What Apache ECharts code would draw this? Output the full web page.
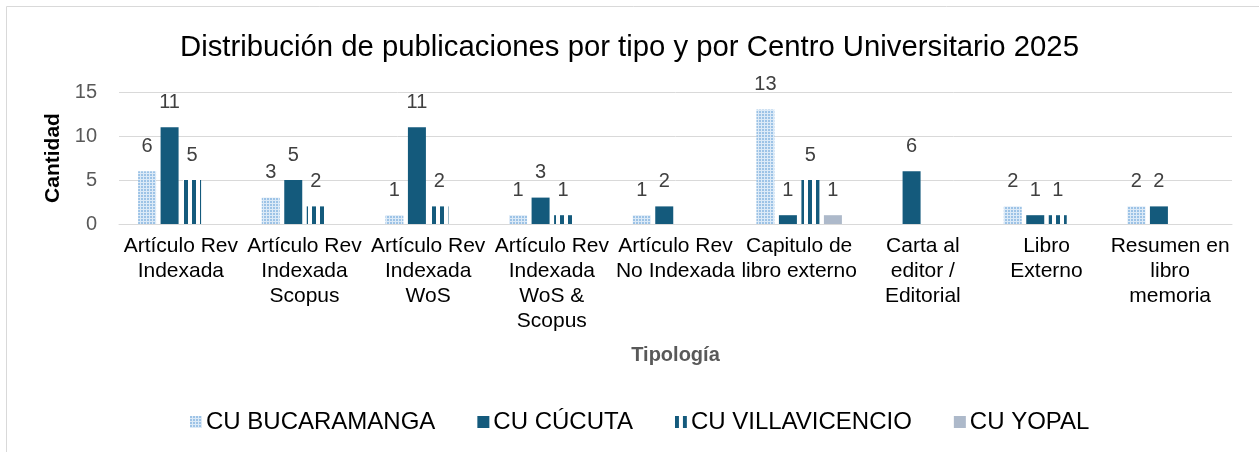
<!DOCTYPE html>
<html><head><meta charset="utf-8">
<script src="https://cdn.jsdelivr.net/npm/echarts@6/dist/echarts.min.js"></script>
<style>html,body{margin:0;padding:0;background:#fff}#c{width:1259px;height:452px}</style>
</head><body><div id="c"></div>
<script>
const categories = ['Artículo Rev\nIndexada','Artículo Rev\nIndexada\nScopus','Artículo Rev\nIndexada\nWoS','Artículo Rev\nIndexada\nWoS &\nScopus','Artículo Rev\nNo Indexada','Capitulo de\nlibro externo','Carta al\neditor /\nEditorial','Libro\nExterno','Resumen en\nlibro\nmemoria'];
const seriesNames = ['CU BUCARAMANGA','CU CÚCUTA','CU VILLAVICENCIO','CU YOPAL'];
const bucaramanga = [6,3,1,1,1,13,null,2,2];
const cucuta = [11,5,11,3,2,1,6,1,2];
const villavicencio = [5,2,2,1,null,5,null,1,null];
const yopal = [null,null,null,null,null,1,null,null,null];
const yTicks = {min:0,max:15,interval:5};

const FONT = 'Liberation Sans, Arial, sans-serif';
function dotPattern(){
  const c=document.createElement('canvas');c.width=3;c.height=3;
  const g=c.getContext('2d');g.fillStyle='#DCEAF7';g.fillRect(0,0,3,3);
  g.fillStyle='#9DC3E6';g.fillRect(0,0,2,2);return c;
}
function stripePattern(){
  const c=document.createElement('canvas');c.width=8;c.height=4;
  const g=c.getContext('2d');g.fillStyle='#ffffff';g.fillRect(0,0,8,4);
  g.fillStyle='#145A7C';g.fillRect(0,0,4,4);return c;
}
const colors=[{image:dotPattern(),repeat:'repeat'},'#145A7C',{image:stripePattern(),repeat:'repeat'},'#ADB9CA'];
const data=[bucaramanga,cucuta,villavicencio,yopal];

const chart=echarts.init(document.getElementById('c'),null,{renderer:'canvas'});
chart.setOption({
  animation:false,
  textStyle:{fontFamily:FONT},
  graphic:[{type:'rect',shape:{x:6.5,y:6.5,width:1300,height:500},style:{fill:'none',stroke:'#D9D9D9',lineWidth:1},silent:true}],
  title:{text:'Distribución de publicaciones por tipo y por Centro Universitario 2025',left:'center',top:28,
    textStyle:{fontFamily:FONT,fontSize:29.3,fontWeight:'normal',color:'#000'}},
  legend:{bottom:18,left:190,padding:0,itemWidth:12,itemHeight:12,itemGap:42,icon:'rect',
    textStyle:{fontFamily:FONT,fontSize:24,color:'#000',padding:[0,0,0,-1]},data:seriesNames},
  grid:{left:119,right:27,top:92,bottom:228,containLabel:false},
  xAxis:{type:'category',data:categories,
    axisLine:{show:true,lineStyle:{color:'#D9D9D9',width:1}},axisTick:{show:false},
    axisLabel:{interval:0,fontFamily:FONT,fontSize:21,lineHeight:25,color:'#000',margin:10},
    name:'Tipología',nameLocation:'middle',nameGap:121,
    nameTextStyle:{fontFamily:FONT,fontSize:20,fontWeight:'bold',color:'#595959'}},
  yAxis:{type:'value',min:yTicks.min,max:yTicks.max,interval:yTicks.interval,
    axisLine:{show:false},axisTick:{show:false},
    splitLine:{lineStyle:{color:'#D9D9D9',width:1}},
    axisLabel:{fontFamily:FONT,fontSize:20,color:'#595959',margin:22},
    name:'Cantidad',nameLocation:'middle',nameGap:55,nameRotate:90,
    nameTextStyle:{fontFamily:FONT,fontSize:21,fontWeight:'bold',color:'#000'}},
  series:seriesNames.map((n,i)=>({
    name:n,type:'bar',data:data[i],barWidth:18,barGap:'25%',
    itemStyle:{color:colors[i]},
    label:{show:true,position:'top',distance:15,fontFamily:FONT,fontSize:20,color:'#404040'}
  }))
});
</script></body></html>
